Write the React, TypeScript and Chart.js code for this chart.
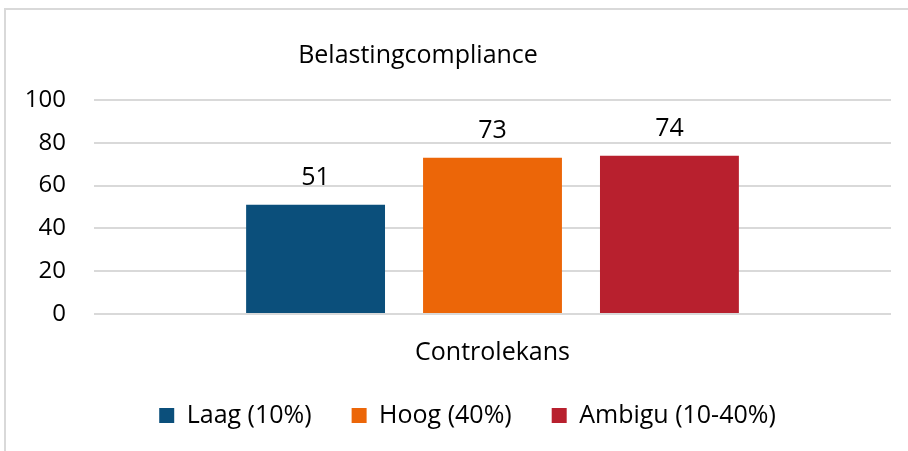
import React, { useEffect, useRef } from 'react';
import { Chart, registerables } from 'chart.js';

Chart.register(...registerables);

const chartTitle = 'Belastingcompliance';
const categories = ['Controlekans'];
const seriesNames = ['Laag (10%)', 'Hoog (40%)', 'Ambigu (10-40%)'];
const laagValues = [51];
const hoogValues = [73];
const ambiguValues = [74];
const seriesColors = ['#0B4F7B', '#EC6608', '#B8202E'];
const yMin = 0;
const yMax = 100;
const yStep = 20;

const FONT = "'Open Sans', sans-serif";

const framePlugin = {
  id: 'frame',
  afterLayout(chart: any) {
    // let the y tick labels draw beyond the narrowed axis box
    if (chart.scales.y) chart.scales.y.left = 0;
  },
  beforeDraw(chart: any) {
    const { ctx, width, height } = chart;
    ctx.save();
    ctx.fillStyle = '#ffffff';
    ctx.fillRect(0, 0, width, height);
    ctx.strokeStyle = '#d9d9d9';
    ctx.lineWidth = 2;
    ctx.beginPath();
    ctx.moveTo(5, height + 5);
    ctx.lineTo(5, 9);
    ctx.lineTo(width + 5, 9);
    ctx.stroke();
    ctx.restore();
  },
};

const titlePlugin = {
  id: 'customTitle',
  afterDraw(chart: any) {
    const { ctx } = chart;
    ctx.save();
    ctx.font = `25px ${FONT}`;
    ctx.fillStyle = '#000000';
    ctx.textAlign = 'center';
    ctx.textBaseline = 'alphabetic';
    ctx.fillText(chartTitle, 418, 63);
    ctx.restore();
  },
};

const valueLabelPlugin = {
  id: 'valueLabels',
  afterDatasetsDraw(chart: any) {
    const { ctx } = chart;
    ctx.save();
    ctx.font = `25px ${FONT}`;
    ctx.fillStyle = '#000000';
    ctx.textAlign = 'center';
    ctx.textBaseline = 'alphabetic';
    chart.data.datasets.forEach((ds: any, i: number) => {
      const meta = chart.getDatasetMeta(i);
      meta.data.forEach((bar: any, j: number) => {
        ctx.fillText(String(ds.data[j]), bar.x, bar.y - 20);
      });
    });
    ctx.restore();
  },
};

export default function App() {
  const canvasRef = useRef<HTMLCanvasElement | null>(null);

  useEffect(() => {
    document.body.style.margin = '0';
    const canvas = canvasRef.current;
    if (!canvas) return;
    const values = [laagValues, hoogValues, ambiguValues];
    const chart = new Chart(canvas, {
      type: 'bar',
      data: {
        labels: categories,
        datasets: seriesNames.map((name, i) => ({
          label: name,
          data: values[i],
          backgroundColor: seriesColors[i],
          borderWidth: 0,
          categoryPercentage: 0.666,
          barPercentage: 0.785,
        })),
      },
      options: {
        responsive: false,
        animation: false,
        devicePixelRatio: 1,
        layout: { padding: { top: 100, left: 44, right: 17, bottom: 13 } },
        scales: {
          x: {
            grid: { display: false, drawTicks: false },
            border: { display: false },
            ticks: { color: '#000000', font: { family: FONT, size: 25 }, padding: 24 },
            afterFit: (scale: any) => { scale.height = 49; },
          },
          y: {
            min: yMin,
            max: yMax,
            grid: { color: '#d9d9d9', lineWidth: 2, drawTicks: false },
            border: { display: false },
            ticks: { stepSize: yStep, color: '#000000', font: { family: FONT, size: 24 }, padding: 28 },
            afterFit: (scale: any) => { scale.width = 50; },
          },
        },
        plugins: {
          title: { display: false },
          tooltip: { enabled: false },
          legend: {
            position: 'bottom',
            labels: {
              boxWidth: 15,
              boxHeight: 15,
              padding: 40,
              color: '#000000',
              font: { family: FONT, size: 25 },
            },
          },
        },
      },
      plugins: [framePlugin, titlePlugin, valueLabelPlugin],
    });
    return () => chart.destroy();
  }, []);

  return (
    <div style={{ width: 908, height: 451 }}>
      <canvas ref={canvasRef} width={908} height={451} style={{ display: 'block' }} />
    </div>
  );
}
